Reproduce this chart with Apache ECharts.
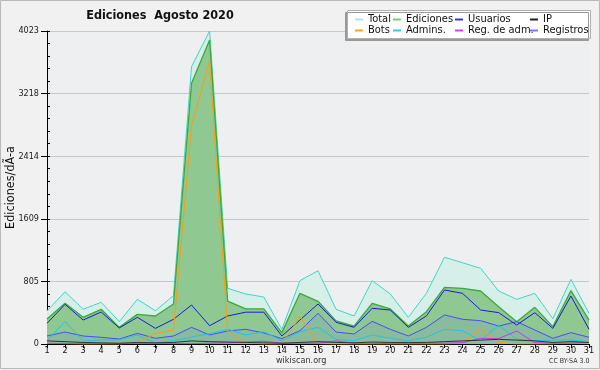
<!DOCTYPE html>
<html><head><meta charset="utf-8">
<script src="https://cdn.jsdelivr.net/npm/echarts@6/dist/echarts.min.js"></script>
<style>html,body{margin:0;padding:0;background:#f1f1f1}#c{width:600px;height:370px}</style>
</head><body><div id="c"></div><script>
var days = ['1','2','3','4','5','6','7','8','9','10','11','12','13','14','15','16','17','18','19','20','21','22','23','24','25','26','27','28','29','30','31'];
var yTicks = [0, 805, 1609, 2414, 3218, 4023];
var total     = [424, 672, 446, 536, 287, 574, 428, 621, 3564, 4023, 716, 643, 604, 189, 814, 942, 446, 360, 814, 643, 343, 651, 1114, 1045, 973, 681, 574, 651, 326, 831, 394];
var ediciones = [321, 523, 343, 446, 214, 381, 360, 514, 3350, 3907, 551, 452, 452, 146, 651, 549, 296, 231, 523, 450, 231, 416, 728, 716, 681, 480, 287, 471, 223, 686, 308];
var usuarios  = [266, 510, 308, 411, 206, 343, 201, 317, 501, 235, 360, 409, 409, 103, 308, 514, 279, 214, 459, 437, 214, 360, 694, 651, 437, 403, 244, 403, 201, 617, 189];
var registros = [103, 154, 103, 86, 64, 137, 73, 103, 214, 116, 167, 189, 142, 69, 171, 394, 154, 129, 291, 189, 103, 214, 373, 317, 300, 231, 287, 180, 73, 146, 86];
var admins    = [39, 290, 39, 51, 55, 116, 13, 43, 90, 133, 190, 116, 158, 43, 158, 214, 60, 43, 116, 73, 43, 86, 189, 171, 43, 244, 60, 43, 51, 51, 30];
var bots      = [10, 5, 0, 0, 0, 15, 137, 180, 2802, 3641, 165, 15, 0, 0, 351, 5, 0, 0, 0, 0, 0, 0, 0, 10, 189, 20, 0, 0, 0, 30, 30];
var regAdm    = [10, 5, 5, 5, 5, 5, 5, 5, 5, 10, 15, 25, 35, 10, 10, 10, 40, 10, 10, 5, 5, 10, 10, 17, 73, 69, 167, 17, 10, 10, 20];
var ip        = [40, 30, 20, 15, 10, 20, 15, 20, 40, 30, 25, 20, 15, 10, 20, 30, 20, 15, 25, 20, 20, 20, 30, 40, 50, 60, 50, 40, 20, 30, 20];

var FF = '"DejaVu Sans Condensed","DejaVu Sans",sans-serif';
var yMax = yTicks[yTicks.length - 1];
var chart = echarts.init(document.getElementById('c'), null, {renderer: 'canvas'});

function line(name, data, color, extra) {
  var s = {
    name: name, type: 'line', data: data, symbol: 'none', showSymbol: false,
    color: color, itemStyle: {color: color},
    lineStyle: {color: color, width: 1}, silent: true, animation: false
  };
  for (var k in extra) s[k] = extra[k];
  return s;
}

function legendCol(left, names, colors) {
  return {
    orient: 'vertical', left: left, top: 14, itemGap: 0, itemWidth: 8, itemHeight: 2,
    icon: 'rect', selectedMode: false, padding: 0,
    textStyle: {fontFamily: FF, fontSize: 11, color: '#111', lineHeight: 10, padding: [0, 0, 0, 0]},
    data: names.map(function (n, i) { return {name: n, itemStyle: {color: colors[i]}}; })
  };
}

chart.setOption({
  backgroundColor: '#f1f1f1',
  animation: false,
  title: {
    text: 'Ediciones  Agosto 2020', left: 155, top: 4, textAlign: 'center',
    textStyle: {fontFamily: FF, fontSize: 12.5, fontWeight: 'bold', color: '#111'}
  },
  legend: [
    legendCol(355, ['Total', 'Bots'], ['#a8e8e6', '#ffa020']),
    legendCol(393, ['Ediciones', 'Admins.'], ['#77cc77', '#33ccdd']),
    legendCol(455, ['Usuarios', 'Reg. de adm.'], ['#3333ee', '#cc44ee']),
    legendCol(530, ['IP', 'Registros'], ['#222222', '#7777ff'])
  ],
  graphic: [
    {type: 'rect', z: -1, shape: {x: 0.5, y: 0.5, width: 599, height: 368},
     style: {fill: 'none', stroke: '#b8b8b8', lineWidth: 1}},
    {type: 'rect', z: 1, shape: {x: 347.5, y: 10.5, width: 243, height: 28},
     style: {fill: '#ffffff', stroke: '#b0b0b0', lineWidth: 1, shadowColor: '#999999', shadowOffsetX: -2, shadowOffsetY: 2, shadowBlur: 0}},
    {type: 'text', left: 276, top: 356, style: {text: 'wikiscan.org', fontFamily: FF, fontSize: 9, fill: '#333'}},
    {type: 'text', left: 549, top: 358, style: {text: 'CC BY-SA 3.0', fontFamily: FF, fontSize: 7, fill: '#333'}}
  ],
  grid: {left: 47, right: 11, top: 31, bottom: 26, show: true, backgroundColor: '#edeff1', borderWidth: 0, outerBoundsMode: 'none', containLabel: false},
  xAxis: {
    type: 'category', data: days, boundaryGap: false,
    axisLine: {lineStyle: {color: '#000', width: 1}},
    axisTick: {alignWithLabel: true, length: 4, lineStyle: {color: '#000'}},
    axisLabel: {interval: 0, margin: 2, fontFamily: FF, fontSize: 9, color: '#111'},
    splitLine: {show: false}
  },
  yAxis: [{
    type: 'value', min: 0, max: yMax, interval: yMax / 5,
    name: 'Ediciones/dÃ-a', nameLocation: 'middle', nameGap: 30, nameRotate: 90, nameMoveOverlap: false,
    nameTextStyle: {fontFamily: FF, fontSize: 12.5, color: '#111'},
    axisLine: {show: true, lineStyle: {color: '#000', width: 1}},
    axisTick: {show: true, length: 6, lineStyle: {color: '#000'}},
    axisLabel: {margin: 8, fontFamily: FF, fontSize: 9, color: '#222',
      formatter: function (v) { return String(Math.round(v)); }},
    splitLine: {show: true, lineStyle: {color: '#c8c8c8', width: 1}}
  }, {
    type: 'value', min: 0, max: yMax, interval: yMax / 25, position: 'left', offset: 0,
    axisLine: {show: false}, axisLabel: {show: false}, splitLine: {show: false},
    axisTick: {show: true, inside: true, length: 3, lineStyle: {color: '#000'}}
  }],
  series: [
    line('Total', total, '#3fd6c6', {areaStyle: {color: '#d6f0e9', opacity: 1}}),
    line('Ediciones', ediciones, '#3aaa3a', {areaStyle: {color: '#90c892', opacity: 1}, lineStyle: {color: '#3aaa3a', width: 1.3}}),
    line('Registros', registros, '#4a4aff', {areaStyle: {color: 'rgba(90,100,230,0.13)', opacity: 1}}),
    line('Usuarios', usuarios, '#1a1ae0', {}),
    line('Admins.', admins, '#22c4e0', {}),
    line('Bots', bots, '#ff9a10', {}),
    line('Reg. de adm.', regAdm, '#cc33ee', {}),
    line('IP', ip, '#333333', {})
  ]
});
</script></body></html>
